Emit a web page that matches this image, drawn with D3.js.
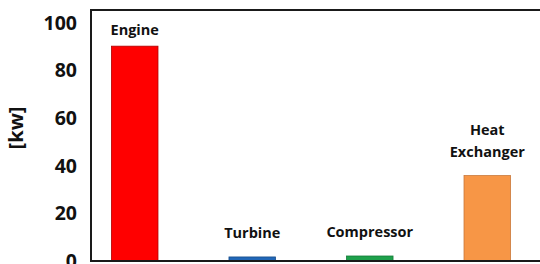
<!DOCTYPE html>
<html>
<head>
<meta charset="utf-8">
<script src="https://cdn.jsdelivr.net/npm/d3@7"></script>
<style>
  body { margin: 0; background: #fff; }
  text { font-family: "Open Sans", sans-serif; font-weight: bold; fill: #111; }
</style>
</head>
<body>
<svg width="540" height="264"></svg>
<script>
const categories = ['Engine', 'Turbine', 'Compressor', 'Heat Exchanger'];
const values = [90.3, 1.7, 2.1, 35.9];
const colors = ['#ff0000', '#2167b8', '#1ea14b', '#f79646'];
const strokes = ['#b00000', '#184c88', '#157a38', '#c9783a'];
const labelLines = [['Engine'], ['Turbine'], ['Compressor'], ['Heat', 'Exchanger']];
const yTicks = [0, 20, 40, 60, 80, 100];

const svg = d3.select('svg');
const plotLeft = 91, plotTop = 10, plotBottom = 261, plotRight = 540;

const x = d3.scaleBand()
  .domain(categories)
  .range([plotLeft, 531])
  .paddingInner(0.604)
  .paddingOuter(0.174);

const y = d3.scaleLinear()
  .domain([0, 105.5])
  .range([plotBottom, plotTop]);

// bars
svg.append('g')
  .selectAll('rect')
  .data(categories)
  .enter().append('rect')
    .attr('x', d => x(d))
    .attr('width', x.bandwidth())
    .attr('y', (d, i) => y(values[i]))
    .attr('height', (d, i) => y(0) - y(values[i]))
    .attr('fill', (d, i) => colors[i])
    .attr('stroke', (d, i) => strokes[i])
    .attr('stroke-width', 0.8);

// bar labels
const labels = svg.append('g')
  .selectAll('text')
  .data(categories)
  .enter().append('text')
    .attr('text-anchor', 'middle')
    .attr('font-size', 14.5)
    .attr('x', d => x(d) + x.bandwidth() / 2)
    .attr('y', (d, i) => Math.max(y(values[i]) - 19, y(100) + 12) - (labelLines[i].length - 1) * 21.5);
labels.selectAll('tspan')
  .data((d, i) => labelLines[i].map(t => ({ t, cx: x(d) + x.bandwidth() / 2 })))
  .enter().append('tspan')
    .attr('x', d => d.cx)
    .attr('dy', (d, j) => j ? 21.5 : 0)
    .text(d => d.t);

// y axis labels
const yAxis = svg.append('g')
  .attr('transform', `translate(${plotLeft},0)`)
  .call(d3.axisLeft(y).tickValues(yTicks).tickSize(0).tickPadding(14));
yAxis.select('.domain').remove();
yAxis.selectAll('text')
  .attr('font-size', 19.5)
  .attr('font-family', '"Open Sans", sans-serif')
  .attr('font-weight', 'bold')
  .attr('fill', '#111');

svg.append('text')
  .attr('transform', `translate(23,128) rotate(-90)`)
  .attr('text-anchor', 'middle')
  .attr('font-size', 20)
  .text('[kw]');

// frame
svg.append('path')
  .attr('d', `M${plotRight},${plotTop}H${plotLeft}V${plotBottom}H${plotRight}`)
  .attr('fill', 'none')
  .attr('stroke', '#1a1a1a')
  .attr('stroke-width', 2);
</script>
</body>
</html>
